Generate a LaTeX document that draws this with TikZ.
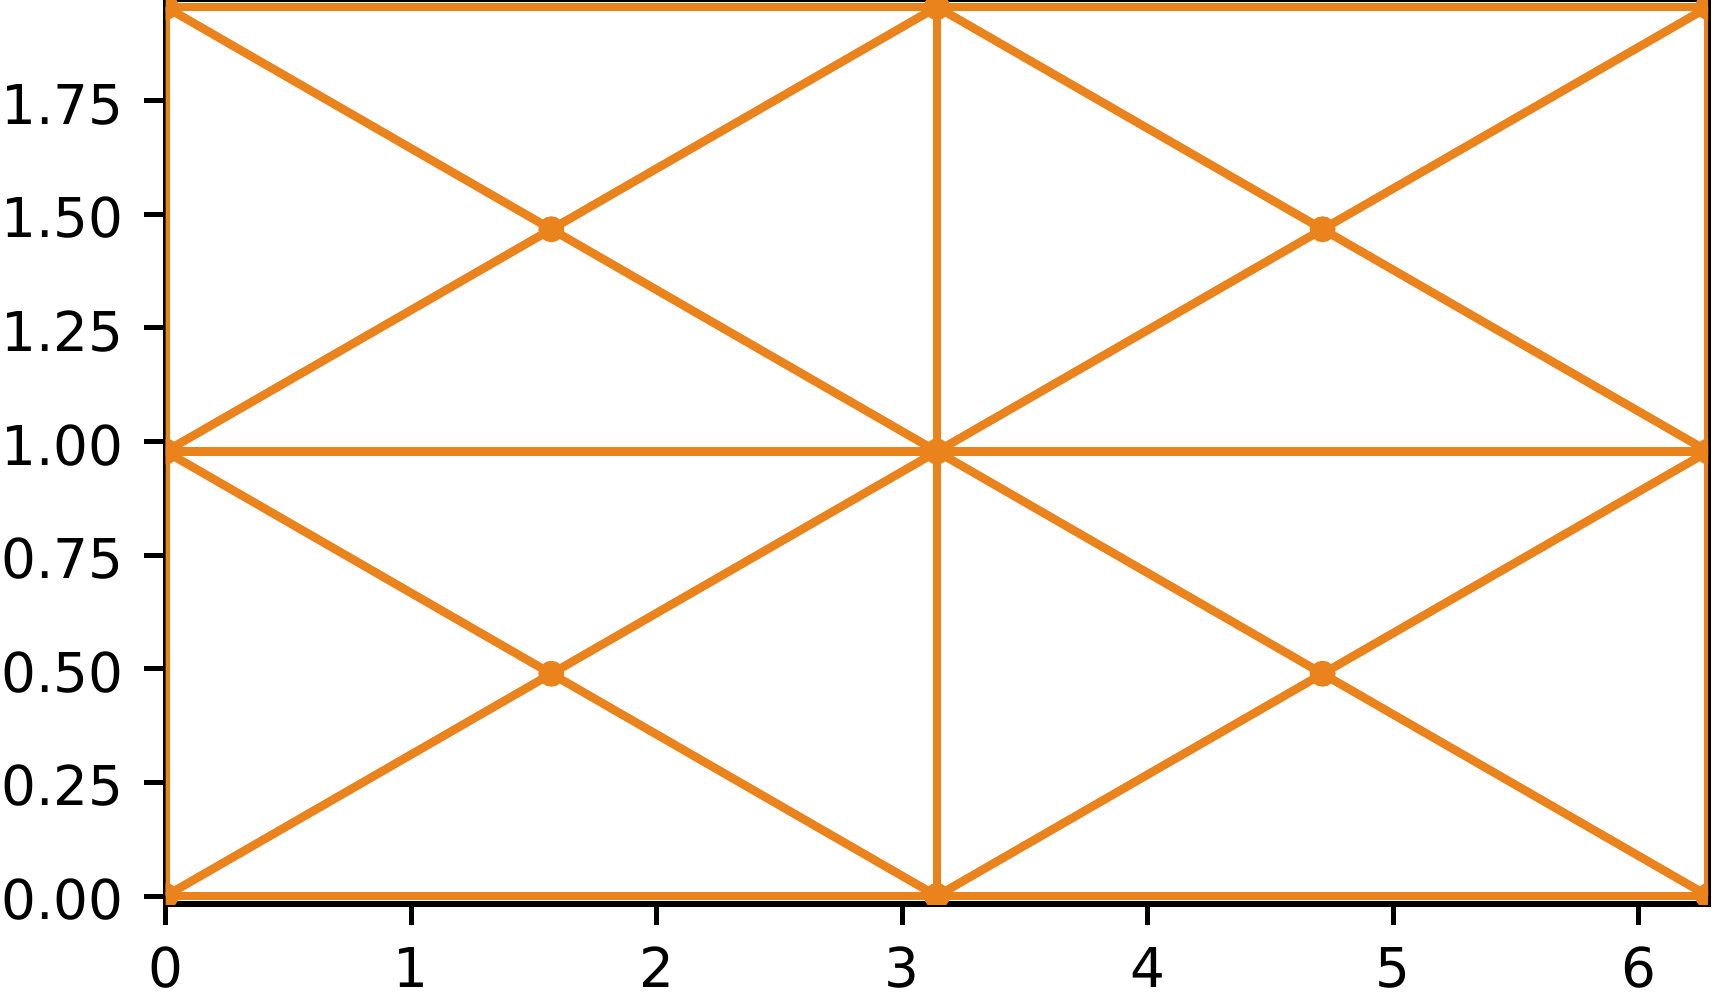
\documentclass[tikz,border=0pt]{standalone}
\usepackage{fontspec}
\setmainfont{DejaVu Sans}
\usepackage{tikz}
\usepackage{xcolor}
\usetikzlibrary{calc}

\definecolor{meshorange}{RGB}{235,131,29}

\begin{document}
\begin{tikzpicture}[
            x=2.455cm, y=4.545cm,
            font=\fontsize{15.6}{18}\selectfont,
            spine/.style={draw=black, line width=0.055cm},
            axtick/.style={draw=black, line width=0.05cm},
            xlab/.style={anchor=base, inner sep=0pt, yshift=-0.91cm},
            ylab/.style={anchor=base east, inner sep=0pt, xshift=-0.414cm, yshift=-0.235cm},
            mesh/.style={draw=meshorange, line width=0.085cm, line join=round},
            vtx/.style={circle, fill=meshorange, minimum size=0.26cm, inner sep=0pt}
        ]
            \useasboundingbox (-1.657cm,-1.02cm) rectangle (15.463cm,8.96cm);
            \pgfmathsetmacro{\H}{1.956}

            % Axes
            \coordinate (axsw) at (0,-0.0176);
            \coordinate (axne) at (2*pi,\H+0.0176);
            \draw[spine] (axsw) rectangle (axne);

            % Ticks
            \foreach \xv in {0,...,6} {
                \draw[axtick] (\xv,-0.0176) -- ++(0,-0.205cm);
                \node[xlab] (xl\xv) at (\xv,0) {\xv};
            }
            \foreach \yv [count=\k] in {0.00,0.25,0.50,0.75,1.00,1.25,1.50,1.75} {
                \draw[axtick] (0,\yv) -- ++(-0.215cm,0);
                \node[ylab] (yl\k) at (0,\yv) {\yv};
            }

            % Mesh
            \begin{scope}
                \clip (axsw) rectangle (axne);
                \coordinate (a0) at (0,0);
                \coordinate (a1) at (pi,0);
                \coordinate (a2) at (2*pi,0);
                \coordinate (b0) at (0,\H/2);
                \coordinate (b1) at (pi,\H/2);
                \coordinate (b2) at (2*pi,\H/2);
                \coordinate (c0) at (0,\H);
                \coordinate (c1) at (pi,\H);
                \coordinate (c2) at (2*pi,\H);
                \coordinate (d0) at (pi/2,\H/4);
                \coordinate (d1) at (3*pi/2,\H/4);
                \coordinate (e0) at (pi/2,3*\H/4);
                \coordinate (e1) at (3*pi/2,3*\H/4);

                \draw[mesh] (a0) -- (a1) -- (a2);
                \draw[mesh] (b0) -- (b1) -- (b2);
                \draw[mesh] (c0) -- (c1) -- (c2);
                \draw[mesh] (a0) -- (b0) -- (c0);
                \draw[mesh] (a1) -- (b1) -- (c1);
                \draw[mesh] (a2) -- (b2) -- (c2);
                \draw[mesh] (a0) -- (d0) -- (b1) -- (e1) -- (c2);
                \draw[mesh] (c0) -- (e0) -- (b1) -- (d1) -- (a2);
                \draw[mesh] (b0) -- (e0) -- (c1) -- (e1) -- (b2);
                \draw[mesh] (b0) -- (d0) -- (a1) -- (d1) -- (b2);

                \foreach \v in {a0,a1,a2,b0,b1,b2,c0,c1,c2,d0,d1,e0,e1}
                    \node[vtx] (m-\v) at (\v) {};
            \end{scope}
        \end{tikzpicture}
\end{document}
